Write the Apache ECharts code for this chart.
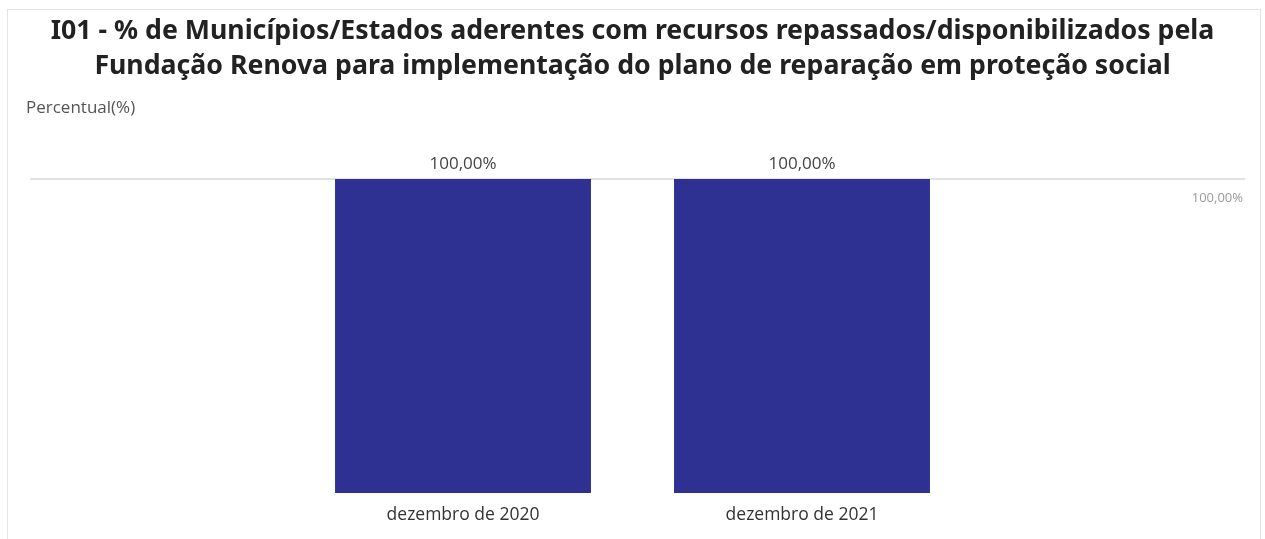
<!DOCTYPE html>
<html><head><meta charset="utf-8">
<script src="https://cdn.jsdelivr.net/npm/echarts@6/dist/echarts.min.js"></script>
<style>
html,body{margin:0;padding:0;background:#fff;overflow:hidden;}
#frame{position:absolute;left:7px;top:9px;width:1254px;height:560px;border:1px solid #e3e3e3;box-sizing:border-box;}
#chart{position:absolute;left:0;top:0;width:1265px;height:539px;}
</style></head>
<body><div id="frame"></div><div id="chart"></div>
<script>
const titleLines = ["I01 - % de Municípios/Estados aderentes com recursos repassados/disponibilizados pela","Fundação Renova para implementação do plano de reparação em proteção social"];
const yAxisName = "Percentual(%)";
const categories = ["dezembro de 2020", "dezembro de 2021"];
const values = [100, 100];
const yMin = 0, yMax = 100;

// fit title font size so that the first line spans the reference width
const ctx = document.createElement('canvas').getContext('2d');
ctx.font = 'bold 100px "Noto Sans"';
const w100 = ctx.measureText(titleLines[0]).width;
const titleSize = Math.round(100 * 1165 / w100 * 10) / 10;
const titleCenter = 647.5;
const shift = (titleCenter - 1265 / 2) * 2;

const fmt = v => v.toFixed(2).replace('.', ',') + '%';
const chart = echarts.init(document.getElementById('chart'), null, {renderer:'canvas'});
chart.setOption({
  animation:false,
  title:[{
    text: titleLines.join('\n'), left:'center', top:9,
    padding: shift >= 0 ? [5,5,5,5+shift] : [5,5-shift,5,5],
    textStyle:{fontFamily:'Noto Sans', fontWeight:'bold', fontSize:titleSize, color:'#222', lineHeight:35}
  },{
    text: yAxisName, left:21, top:95,
    textStyle:{fontFamily:'Open Sans', fontWeight:'normal', fontSize:17, color:'#555'}
  }],
  grid:[
    {left:30, right:20, top:179, bottom:46},
    {left:293.5, width:678, top:179, bottom:46}
  ],
  xAxis:[
    {gridIndex:0, type:'value', show:false, min:0, max:1},
    {gridIndex:1, type:'category', data:categories,
     axisLine:{show:false}, axisTick:{show:false},
     axisLabel:{fontFamily:'Open Sans', fontSize:17.5, color:'#333', margin:13}}
  ],
  yAxis:[
    {gridIndex:0, type:'value', min:yMin, max:yMax, interval:100, position:'right',
     axisLine:{show:false}, axisTick:{show:false},
     splitLine:{show:true, showMinLine:false, lineStyle:{color:'#e2e2e2', width:2}},
     axisLabel:{inside:true, verticalAlign:'top', margin:2, padding:[13,0,0,0],
       fontFamily:'Open Sans', fontSize:13, color:'#9a9a9a',
       formatter: v => v === yMax ? fmt(v) : ''}},
    {gridIndex:1, type:'value', min:yMin, max:yMax, show:false}
  ],
  series:[{
    type:'bar', xAxisIndex:1, yAxisIndex:1, data:values, barWidth:'75.5%',
    itemStyle:{color:'#2e3192'},
    label:{show:true, position:'top', distance:6, formatter: p => fmt(p.value),
      fontFamily:'Open Sans', fontSize:17, color:'#444'}
  }]
});
</script></body></html>
